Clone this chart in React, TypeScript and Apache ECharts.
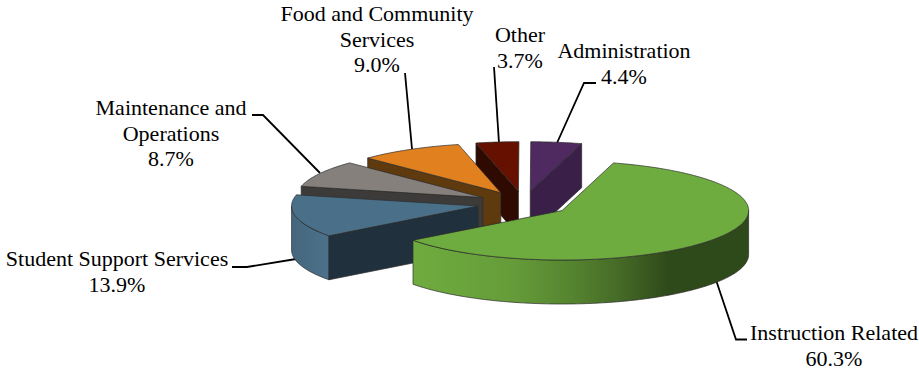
import React, { useEffect, useRef } from "react";
import * as echarts from "echarts";

// Clockwise from the big slice, in percent.
const categories = [
  "Instruction Related",
  "Student Support Services",
  "Maintenance and\nOperations",
  "Food and Community\nServices",
  "Other",
  "Administration",
];
const shares = [60.3, 13.9, 8.7, 9.0, 3.7, 4.4];

const topColors = ["#6fac3f", "#4a6f88", "#85807c", "#e0801f", "#661000", "#4f2a60"];
const wallColors = ["#6fac3f", "#20303c", "#3c3b3a", "#5f3a0e", "#2e0a00", "#3a2048"];
// Which cut face of each wedge looks towards the viewer.
const cutFaces = ["none", "start", "start", "start", "start", "end"];

// Label anchors: [centre x, top of first line]; leader polylines follow.
const labelAnchors = [
  [834, 320],
  [117, 246],
  [171, 95],
  [377, 1],
  [520, 22],
  [624, 38],
];
const leaders = [
  [[716, 280], [736, 339.5], [747, 339.5]],
  [[232, 267], [247, 267], [296, 259]],
  [[252, 115], [263, 115], [320, 173]],
  [[405, 73], [412, 149]],
  [[494, 67], [499, 143]],
  [[596, 83], [584, 83], [557, 143]],
];

// Projection of the tilted pie.
const CX = 523.7;
const CY = 203.5;
const RX = 186.5;
const RY = 49.5;
const DEPTH = 44;
const EXPLODE = 0.25;
const START_DEG = -74;

const total = shares.reduce((a, b) => a + b, 0);
const rad = (d: number) => (d * Math.PI) / 180;

function wedge(i: number) {
  const before = shares.slice(0, i).reduce((a, b) => a + b, 0);
  const a0 = START_DEG + (before / total) * 360;
  const a1 = a0 + (shares[i] / total) * 360;
  const mid = rad((a0 + a1) / 2);
  return {
    a0,
    a1,
    ax: CX + EXPLODE * RX * Math.cos(mid),
    ay: CY + EXPLODE * RY * Math.sin(mid),
  };
}

function arc(ax: number, ay: number, from: number, to: number, dy = 0) {
  const pts: number[][] = [];
  const n = Math.max(2, Math.ceil(Math.abs(to - from)));
  for (let k = 0; k <= n; k++) {
    const t = rad(from + ((to - from) * k) / n);
    pts.push([ax + RX * Math.cos(t), ay + RY * Math.sin(t) + dy]);
  }
  return pts;
}

const greenRim = {
  type: "linear",
  x: 412,
  y: 0,
  x2: 748,
  y2: 0,
  global: true,
  colorStops: [
    { offset: 0, color: "#6fac3f" },
    { offset: 0.3, color: "#659c39" },
    { offset: 0.48, color: "#55832f" },
    { offset: 0.62, color: "#456a27" },
    { offset: 0.76, color: "#2f4a1a" },
    { offset: 1, color: "#2f4a1a" },
  ],
};
const blueRim = {
  type: "linear",
  x: 290,
  y: 0,
  x2: 330,
  y2: 0,
  global: true,
  colorStops: [
    { offset: 0, color: "#44667d" },
    { offset: 1, color: "#4c728b" },
  ],
};
const rimFills: any[] = [greenRim, blueRim, null, null, null, null];

const EDGE = { stroke: "#2b2b2b", lineWidth: 0.7 };

function renderSlice(_params: any, api: any) {
  const i = api.value(1) as number;
  const { a0, a1, ax, ay } = wedge(i);
  const children: any[] = [];
  const poly = (points: number[][], fill: any) =>
    children.push({ type: "polygon", shape: { points }, style: { fill, ...EDGE } });

  // Curved rim: only the stretch on the near half of the ellipse shows.
  const rimFrom = Math.max(a0, 0);
  const rimTo = Math.min(a1, 180);
  if (rimFills[i] && rimTo > rimFrom) {
    poly(
      [...arc(ax, ay, rimFrom, rimTo), ...arc(ax, ay, rimFrom, rimTo, DEPTH).reverse()],
      rimFills[i]
    );
  }

  // Flat cut face running from the apex out to the rim.
  if (cutFaces[i] !== "none") {
    const edge = rad(cutFaces[i] === "start" ? a0 : a1);
    const ox = ax + RX * Math.cos(edge);
    const oy = ay + RY * Math.sin(edge);
    poly(
      [[ox, oy], [ax, ay], [ax, ay + DEPTH], [ox, oy + DEPTH]],
      wallColors[i]
    );
  }

  // Top face.
  poly([[ax, ay], ...arc(ax, ay, a0, a1)], topColors[i]);
  return { type: "group", children };
}

export default function App() {
  const ref = useRef<HTMLDivElement>(null);

  useEffect(() => {
    const chart = echarts.init(ref.current!, undefined, { renderer: "svg" });
    const labelFont = '22px "Liberation Serif", "Times New Roman", serif';
    chart.setOption({
      animation: false,
      backgroundColor: "#ffffff",
      series: [
        {
          type: "custom",
          coordinateSystem: "none",
          silent: true,
          renderItem: renderSlice,
          // Painted from the far wedges to the near ones.
          data: shares.map((v, i) => [v, i]).reverse(),
        },
      ],
      graphic: [
        ...leaders.map((points) => ({
          type: "polyline",
          silent: true,
          shape: { points },
          style: { stroke: "#000000", lineWidth: 1.8, fill: "none" },
        })),
        ...categories.map((name, i) => ({
          type: "text",
          silent: true,
          x: labelAnchors[i][0],
          y: labelAnchors[i][1],
          style: {
            text: `${name}\n${shares[i].toFixed(1)}%`,
            font: labelFont,
            fill: "#000000",
            align: "center",
            verticalAlign: "top",
            lineHeight: 25.5,
          },
        })),
      ],
    });
    return () => chart.dispose();
  }, []);

  return (
    <div
      ref={ref}
      style={{ position: "absolute", left: 0, top: 0, width: 919, height: 371 }}
    />
  );
}
